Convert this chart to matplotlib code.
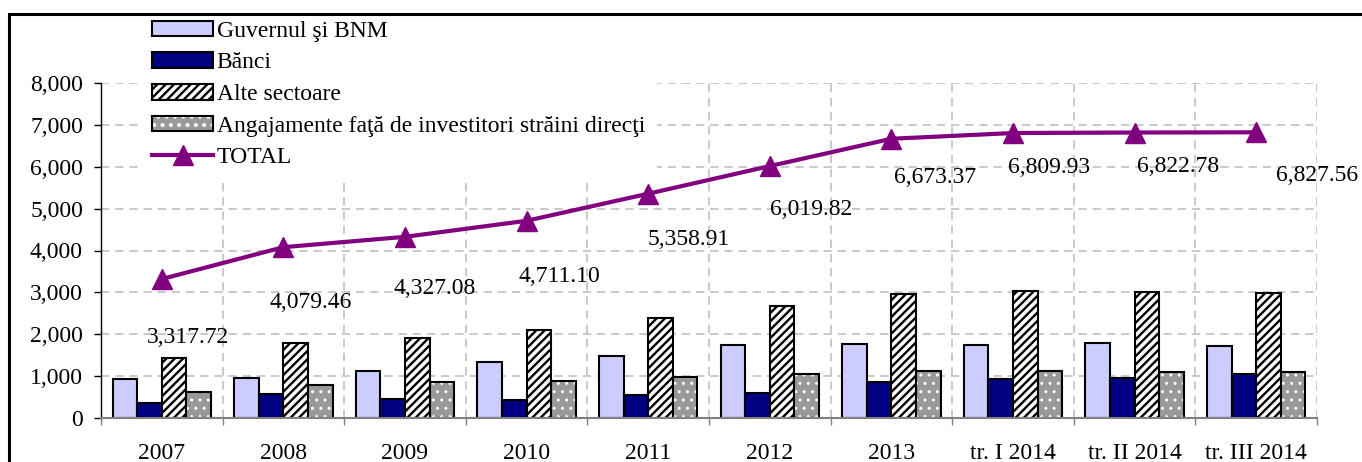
import numpy as np
import matplotlib
matplotlib.use('Agg')
import matplotlib.pyplot as plt
from matplotlib.patches import Patch, Rectangle
from matplotlib.lines import Line2D
from matplotlib.ticker import FuncFormatter, MultipleLocator

# times-like font, as in the original excel chart
plt.rcParams['font.family'] = 'Liberation Serif'
plt.rcParams['hatch.linewidth'] = 1.7

# data (mil. USD)
categories = ['2007', '2008', '2009', '2010', '2011', '2012', '2013',
              'tr. I 2014', 'tr. II 2014', 'tr. III 2014']
guvernul = [920, 944, 1112, 1328, 1478, 1741, 1757, 1750, 1790, 1720]
banci = [360, 560, 456, 416, 546, 586, 865, 918, 942, 1038]
alte_sectoare = [1430, 1790, 1918, 2110, 2375, 2678, 2950, 3040, 3010, 2978]
angajamente = [614, 790, 862, 886, 965, 1036, 1116, 1118, 1094, 1094]
total = [3317.72, 4079.46, 4327.08, 4711.10, 5358.91, 6019.82, 6673.37,
         6809.93, 6822.78, 6827.56]
series_names = ['Guvernul şi BNM', 'Bănci', 'Alte sectoare',
                'Angajamente faţă de investitori străini direcţi', 'TOTAL']

# hand placed value labels (pixel offsets from the point)
label_dx = [26, 27, 30, 33, 40, 41, 44, 36, 43, 61]
label_dy = [58, 55, 52, 56, 46, 43, 39, 34, 34, 43]

FS = 17
purple = '#800080'
lavender = '#ccccff'
navy = '#000080'
grey = '#999999'

fig = plt.figure(figsize=(13.62, 4.62), dpi=100)
ax = fig.add_axes([101 / 1362, 1 - 417.7 / 462, (1317 - 101) / 1362, (417.7 - 83.3) / 462])

x = np.arange(len(categories))
w = 0.202
edge = dict(edgecolor='black', linewidth=1.5)

ax.bar(x - 1.5 * w, guvernul, w, color=lavender, **edge, zorder=2)
ax.bar(x - 0.5 * w, banci, w, color=navy, **edge, zorder=2)
ax.bar(x + 0.5 * w, alte_sectoare, w, color='white', hatch='////', **edge, zorder=2)
# gray bars with small white dots, black outline drawn on top
with plt.rc_context({'hatch.linewidth': 1.0}):
    ax.bar(x + 1.5 * w, angajamente, w, color=grey, edgecolor='white', linewidth=0,
           hatch='..', zorder=2)
ax.bar(x + 1.5 * w, angajamente, w, fill=False, **edge, zorder=2.1)

ax.plot(x, total, color=purple, linewidth=3, marker='^', markersize=14,
        markeredgewidth=1, zorder=3)

for i, v in enumerate(total):
    ax.annotate('{:,.2f}'.format(v), (x[i], v), xytext=(label_dx[i], -label_dy[i]),
                textcoords='offset pixels', ha='center', va='center', fontsize=FS,
                zorder=4)

ax.set_xlim(-0.5, len(categories) - 0.5)
ax.set_ylim(0, 8000)
ax.yaxis.set_major_locator(MultipleLocator(1000))
ax.yaxis.set_major_formatter(FuncFormatter(lambda v, p: '{:,.0f}'.format(v)))

ax.set_xticks(x)
ax.set_xticklabels(categories)
ax.set_xticks(np.arange(len(categories) + 1) - 0.5, minor=True)
ax.tick_params(axis='x', which='major', length=0, pad=18, labelsize=FS)
ax.tick_params(axis='x', which='minor', length=5, width=1, color='#808080')
ax.tick_params(axis='y', length=5, width=1, pad=8, labelsize=FS)

ax.spines['top'].set_visible(False)
ax.spines['right'].set_visible(False)
ax.spines['bottom'].set_color('#808080')
ax.spines['bottom'].set_linewidth(1.5)
ax.spines['left'].set_linewidth(1)

ax.set_axisbelow(True)
ax.grid(axis='y', which='major', color='#c0c0c0', linewidth=1.2, dashes=(5, 3.5))
ax.grid(axis='x', which='minor', color='#c0c0c0', linewidth=1.2, dashes=(5, 3.5))

with plt.rc_context({'hatch.linewidth': 1.0}):
    dots = Patch(facecolor=grey, edgecolor='white', linewidth=0, hatch='..')
handles = [
    Patch(facecolor=lavender, **edge),
    Patch(facecolor=navy, **edge),
    Patch(facecolor='white', hatch='////', **edge),
    (dots, Patch(fill=False, **edge)),
    Line2D([], [], color=purple, linewidth=3, marker='^', markersize=14,
           markeredgewidth=1),
]
leg = fig.legend(handles, series_names, loc='upper left',
                 bbox_to_anchor=(140 / 1362, 1 - 9 / 462), fontsize=FS,
                 frameon=True, fancybox=False, facecolor='white', edgecolor='none',
                 framealpha=1, borderpad=0.5, borderaxespad=0, handlelength=2.6,
                 handleheight=0.63, handletextpad=0.15, labelspacing=0.45)

# outer frame of the figure box (cut by the image edge on the right and bottom)
fig.patches.append(Rectangle((9 / 1362, -0.1), 1.2, 0.1 + 1 - 14 / 462,
                             transform=fig.transFigure, fill=False,
                             edgecolor='black', linewidth=2.2, zorder=10))

plt.savefig('out.png', dpi=100)
